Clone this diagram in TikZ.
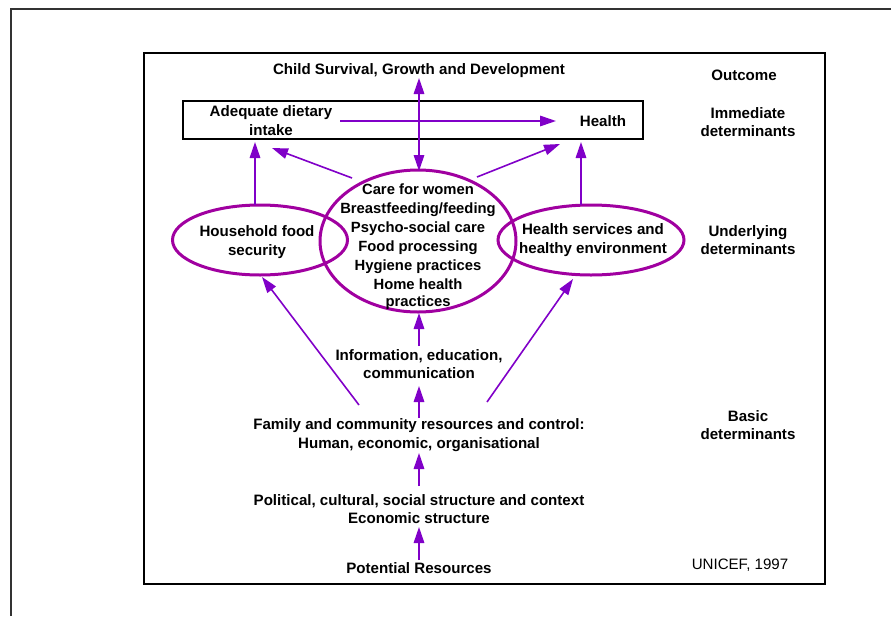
\documentclass[tikz,border=0pt]{standalone}
\usepackage{fontspec}
\setmainfont{Liberation Sans}
\usetikzlibrary{arrows.meta,shapes.geometric}
\definecolor{arrowviolet}{RGB}{128,0,200}
\definecolor{ellmag}{RGB}{160,0,160}
\tikzset{
  lbl/.style={font=\bfseries\fontsize{15.1}{18.8}\selectfont, align=center, inner sep=1pt},
  arr/.style={draw=arrowviolet, line width=1.6pt, -{Triangle[length=16pt,width=10.5pt]}},
  darr/.style={draw=arrowviolet, line width=1.6pt, {Triangle[length=16pt,width=10.5pt]}-{Triangle[length=16pt,width=10.5pt]}},
  ell/.style={draw=ellmag, line width=3pt, ellipse, inner sep=0pt},
}
\begin{document}
\begin{tikzpicture}[x=1pt,y=-1pt]
\useasboundingbox (0,0) rectangle (891,616);
% outer frame (partial)
\draw[black!80, line width=1.2pt] (11,616) -- (11,9) -- (891,9);
% inner frame
\draw[black, line width=1.6pt] (144,53) rectangle (825,584);
% immediate determinants box
\node[draw, line width=1.4pt, minimum width=460pt, minimum height=38pt, inner sep=0pt] (dietbox) at (413,120) {};

% ellipses
\node[ell, minimum width=175pt, minimum height=70pt] (hfs) at (260,240) {};
\node[ell, minimum width=196pt, minimum height=142pt] (care) at (418,241) {};
\node[ell, minimum width=186pt, minimum height=70pt] (hse) at (591,240) {};

% texts
\node[lbl] (csg) at (419,71) {Child Survival, Growth and Development};
\node[lbl] (outcome) at (744,75) {Outcome};
\node[lbl] (immed) at (748,122) {Immediate\\determinants};
\node[lbl] (under) at (748,240) {Underlying\\determinants};
\node[lbl] (basic) at (748,425) {Basic\\determinants};
\node[font=\fontsize{15.1}{18}\selectfont, inner sep=1pt] (unicef) at (740,565) {UNICEF, 1997};

\node[lbl] (adi) at (271,121) {Adequate dietary\\intake};
\node[lbl] (health) at (603,121) {Health};
\node[lbl] (hfstext) at (257,242) {Household food\\security};
\node[lbl] (hsetext) at (593,240) {Health services and\\healthy environment};
\node[lbl, font=\bfseries\fontsize{14.8}{19}\selectfont] (caretext) at (418,247)
  {Care for women\\Breastfeeding/feeding\\Psycho-social care\\Food processing\\Hygiene practices\\Home health\\[-2pt]practices};

\node[lbl] (info) at (419,364) {Information, education,\\communication};
\node[lbl] (family) at (419,435) {Family and community resources and control:\\Human, economic, organisational};
\node[lbl] (political) at (419,509) {Political, cultural, social structure and context\\Economic structure};
\node[lbl] (potential) at (419,568) {Potential Resources};

% connector end coordinates
\coordinate (adiE) at (340,121);
\coordinate (healthW) at (556,121);
\coordinate (csgS) at (419,78);
\coordinate (careN) at (419,171);
\coordinate (careNW) at (352,178);
\coordinate (adiSE) at (272,148);
\coordinate (careNE) at (477,177);
\coordinate (healthSW) at (560,144);
\coordinate (hfsN) at (255,205);
\coordinate (adiS) at (255,142);
\coordinate (hseN) at (581,205);
\coordinate (healthS) at (581,142);
\coordinate (infoN) at (419,346);
\coordinate (careS) at (419,313);
\coordinate (familyN) at (419,418);
\coordinate (infoS) at (419,386);
\coordinate (politicalN) at (419,486);
\coordinate (familyS) at (419,453);
\coordinate (potentialN) at (419,560);
\coordinate (politicalS) at (419,527);
\coordinate (familyNW) at (359,405);
\coordinate (hfsS) at (262,277);
\coordinate (familyNE) at (487,402);
\coordinate (hseS) at (573,279);

% connectors
\draw[arr] (adiE) -- (healthW);
\draw[darr] (careN) -- (csgS);
\draw[arr] (careNW) -- (adiSE);
\draw[arr] (careNE) -- (healthSW);
\draw[arr] (hfsN) -- (adiS);
\draw[arr] (hseN) -- (healthS);
\draw[arr] (infoN) -- (careS);
\draw[arr] (familyN) -- (infoS);
\draw[arr] (politicalN) -- (familyS);
\draw[arr] (potentialN) -- (politicalS);
\draw[arr] (familyNW) -- (hfsS);
\draw[arr] (familyNE) -- (hseS);
\end{tikzpicture}
\end{document}
